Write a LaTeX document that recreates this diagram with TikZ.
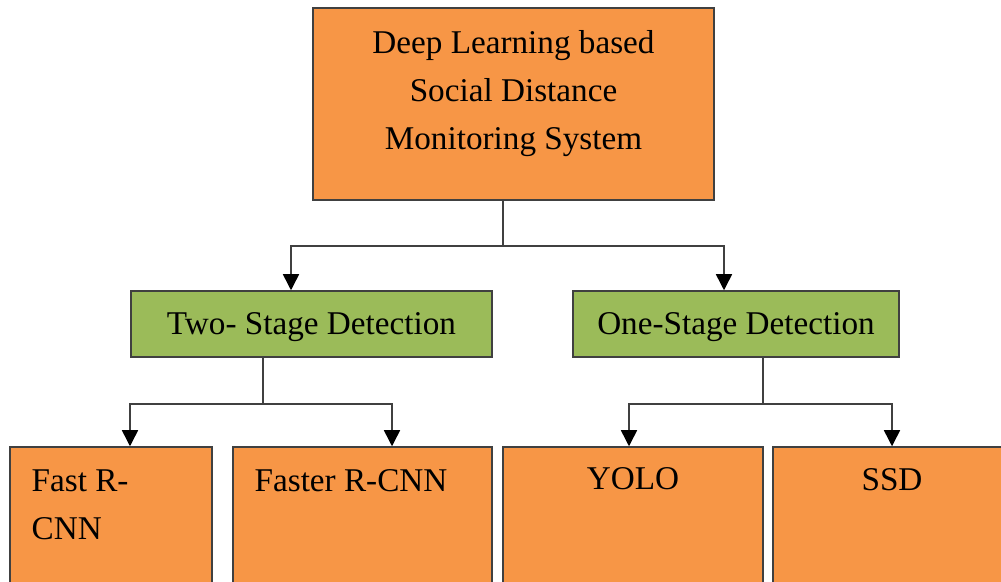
\documentclass[tikz,border=0pt]{standalone}
\usepackage{fontspec}
\setmainfont{Liberation Serif}
\usetikzlibrary{arrows.meta}
\usetikzlibrary{calc}

\definecolor{boxorange}{HTML}{F79646}
\definecolor{boxgreen}{HTML}{9BBB59}
\definecolor{edgegray}{HTML}{404040}

\begin{document}
\begin{tikzpicture}[x=0.5pt, y=-0.5pt,
	every node/.style={font=\fontsize{16.6}{24}\selectfont},
	orangebox/.style={draw=edgegray, line width=0.75pt, fill=boxorange, inner sep=0pt},
	greenbox/.style={draw=edgegray, line width=0.75pt, fill=boxgreen, inner sep=0pt, minimum height=33pt, text depth=0pt},
	conn/.style={draw=edgegray, line width=0.75pt},
	arr/.style={conn, -{Triangle[width=8pt, length=8pt, color=black]}}]
			% keep the page at the size of the picture
			\useasboundingbox (0,0) rectangle (1001,582);
			
			% top level
			\node[orangebox, minimum width=200.5pt, minimum height=96pt,
				label={[anchor=north, align=center, inner sep=0pt, yshift=-11.25pt]north:{Deep Learning based\\Social Distance\\Monitoring System}}] (dl) at (513.5,104) {};
			
			% the two families of detectors
			\node[greenbox, minimum width=180.5pt] (two) at (311.5,324) {Two- Stage Detection};
			\node[greenbox, minimum width=163pt] (one) at (736,324) {One-Stage Detection};
			
			% the detectors, cut off at the bottom
			\node[orangebox, minimum width=101pt, minimum height=76.5pt,
				label={[anchor=north west, align=left, inner sep=0pt, xshift=11pt, yshift=-11.5pt]north west:{Fast R-\\CNN}}] (fast) at (111,523.5) {};
			\node[orangebox, minimum width=129.5pt, minimum height=76.5pt,
				label={[anchor=north west, inner sep=0pt, xshift=11pt, yshift=-11.5pt]north west:{Faster R-CNN}}] (faster) at (362.5,523.5) {};
			\node[orangebox, minimum width=130pt, minimum height=76.5pt,
				label={[anchor=north, inner sep=0pt, yshift=-10.5pt]north:{YOLO}}] (yolo) at (633,523.5) {};
			\node[orangebox, minimum width=119pt, minimum height=76.5pt,
				label={[anchor=north, inner sep=0pt, yshift=-11pt]north:{SSD}}] (ssd) at (892,523.5) {};
			
			% branching lines
			\coordinate (bus1) at (503,246);
			\coordinate (bus2) at (263,404);
			\coordinate (bus3) at (763,404);
			
			\draw[conn] (dl.south -| bus1) -- (bus1);
			\draw[arr] (bus1) -| ($(two.north)+(-20.5,0)$);
			\draw[arr] (bus1) -| ($(one.north)+(-12,0)$);
			
			\draw[conn] (two.south -| bus2) -- (bus2);
			\draw[arr] (bus2) -| ($(fast.north)+(19,0)$);
			\draw[arr] (bus2) -| ($(faster.north)+(29.5,0)$);
			
			\draw[conn] (one.south -| bus3) -- (bus3);
			\draw[arr] (bus3) -| ($(yolo.north)+(-4,0)$);
			\draw[arr] (bus3) -| (ssd.north);
\end{tikzpicture}
\end{document}
